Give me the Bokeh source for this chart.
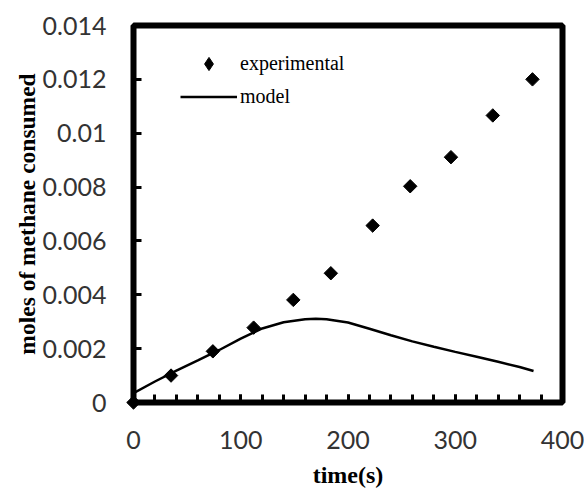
import numpy as np
from bokeh.plotting import figure
from bokeh.models import (FixedTicker, CustomJSTickFormatter, Legend, LegendItem,
                          ColumnDataSource, Range1d)
from bokeh.embed import file_html
from bokeh.resources import INLINE

# experimental data
exp_time = [0, 35, 74, 112, 149, 184, 223, 258, 296, 335, 372]
exp_moles = [0.0, 0.0010, 0.0019, 0.00278, 0.00381, 0.0048, 0.00657, 0.00803, 0.00911, 0.01066, 0.0120]

# model curve
model_time = [0, 20, 40, 60, 80, 100, 120, 140, 160, 170, 180, 200, 220, 240, 260, 280, 300, 320, 340, 360, 373]
model_moles = [0.00035, 0.00078, 0.00118, 0.00156, 0.00195, 0.00237, 0.00275, 0.00298, 0.00309, 0.00311, 0.00309,
               0.00297, 0.00274, 0.00250, 0.00227, 0.00207, 0.00188, 0.00170, 0.00151, 0.00132, 0.00117]

x_ticks = [0, 100, 200, 300, 400]
x_minor = list(range(0, 401, 20))
y_ticks = [0, 0.002, 0.004, 0.006, 0.008, 0.010, 0.012, 0.014]

p = figure(width=584, height=490, output_backend="svg", toolbar_location=None,
           x_range=Range1d(0, 400), y_range=Range1d(0, 0.014),
           min_border_left=133, min_border_right=22, min_border_top=25, min_border_bottom=88)
p.background_fill_color = "white"
p.border_fill_color = "white"
p.grid.visible = False
p.outline_line_color = "black"
p.outline_line_width = 6

model_r = p.line(model_time, model_moles, line_color="black", line_width=2.5)
exp_src = ColumnDataSource(dict(x=exp_time, y=exp_moles))
p.scatter("x", "y", source=exp_src, marker="square", angle=np.pi / 4, size=9.5,
          fill_color="black", line_color="black", level="overlay")
# legend-only glyph (not shown in the plot area)
leg_src = ColumnDataSource(dict(x=[np.nan], y=[np.nan]))
leg_r = p.scatter("x", "y", source=leg_src, marker="diamond", fill_color="black", line_color="black")

for ax in (p.xaxis[0], p.yaxis[0]):
    ax.axis_line_width = 4
    ax.axis_line_color = "black"
    ax.major_tick_in = 8
    ax.major_tick_out = 0
    ax.minor_tick_in = 8
    ax.minor_tick_out = 0
    ax.major_tick_line_width = 3
    ax.minor_tick_line_width = 3
    ax.major_tick_line_color = "black"
    ax.minor_tick_line_color = "black"
    ax.major_label_text_font = "Lato"
    ax.major_label_text_font_size = "25px"
    ax.major_label_text_color = "#333333"
    ax.axis_label_text_font = "Liberation Serif"
    ax.axis_label_text_font_style = "bold"
    ax.axis_label_text_color = "black"

p.xaxis[0].axis_label_text_font_size = "24px"
p.yaxis[0].axis_label_text_font_size = "23.5px"
p.xaxis[0].ticker = FixedTicker(ticks=x_ticks, minor_ticks=x_minor)
p.yaxis[0].ticker = FixedTicker(ticks=y_ticks, minor_ticks=[])
p.yaxis[0].formatter = CustomJSTickFormatter(code="return parseFloat(tick.toFixed(3)).toString();")
p.xaxis[0].major_label_standoff = 28
p.yaxis[0].major_label_standoff = 27
p.xaxis[0].axis_label = "time(s)"
p.yaxis[0].axis_label = "moles of methane consumed"
p.xaxis[0].axis_label_standoff = 10
p.yaxis[0].axis_label_standoff = 0

legend = Legend(items=[LegendItem(label="experimental", renderers=[leg_r]),
                       LegendItem(label="model", renderers=[model_r])],
                location=(47, 289), padding=0, spacing=0, margin=0,
                glyph_width=57, glyph_height=33, label_height=32, label_standoff=3,
                label_text_font="Liberation Serif", label_text_font_size="20px",
                label_text_color="black",
                border_line_color=None, background_fill_alpha=0)
p.add_layout(legend, "center")

open("out.html", "w").write(file_html(p, INLINE))
